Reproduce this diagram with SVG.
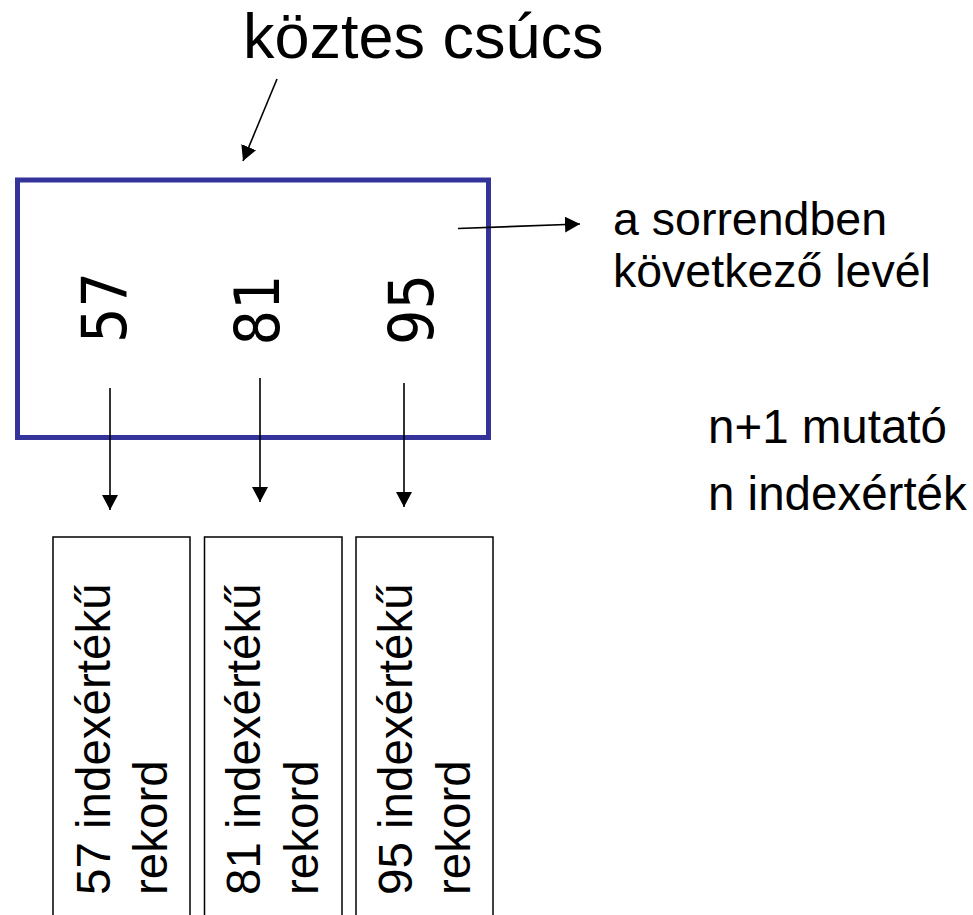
<svg xmlns="http://www.w3.org/2000/svg" width="973" height="915" viewBox="0 0 973 915">
<style>
.t{font-family:"Liberation Sans",Arial,sans-serif;fill:#000}
.num{font-family:"DejaVu Sans",sans-serif;font-size:62px;fill:#000}
.c{stroke:#000;stroke-width:1.6;fill:none}
.rec{fill:#fff;stroke:#000;stroke-width:1.5}
</style>
<defs>
<marker id="ah" markerUnits="userSpaceOnUse" markerWidth="16" markerHeight="16" viewBox="0 0 16 16" refX="15" refY="8" orient="auto">
<path d="M0,0 L15,8 L0,16 z" fill="#000"/>
</marker>
</defs>
<rect width="973" height="915" fill="#fff"/>
<g id="title"><text class="t" x="243" y="58" font-size="63">köztes csúcs</text></g>
<g id="node-koztes">
<rect x="17.5" y="180" width="471" height="257.5" fill="#fff" stroke="#333399" stroke-width="5"/>
<text class="num" transform="translate(126,307.5) rotate(-90) scale(0.9,1)" text-anchor="middle">57</text>
<text class="num" transform="translate(279,310) rotate(-90) scale(0.9,1)" text-anchor="middle">81</text>
<text class="num" transform="translate(433,309.5) rotate(-90) scale(0.9,1)" text-anchor="middle">95</text>
</g>
<g id="label-next"><text class="t" font-size="46.5"><tspan x="613" y="235">a sorrendben</tspan><tspan x="613" y="287">következő levél</tspan></text></g>
<g id="label-n"><text class="t" font-size="47.5" x="708" y="443">n+1 mutató</text><text class="t" font-size="47.5" x="708" y="510">n indexérték</text></g>
<g id="rec57">
<rect class="rec" x="53" y="537" width="137" height="390"/>
<text class="t" font-size="47.5" transform="translate(110,895) rotate(-90)">57 indexértékű</text>
<text class="t" font-size="47.5" transform="translate(167,895) rotate(-90)">rekord</text>
</g>
<g id="rec81">
<rect class="rec" x="204.5" y="537" width="137.5" height="390"/>
<text class="t" font-size="47.5" transform="translate(260,895) rotate(-90)">81 indexértékű</text>
<text class="t" font-size="47.5" transform="translate(318,895) rotate(-90)">rekord</text>
</g>
<g id="rec95">
<rect class="rec" x="356" y="537" width="137" height="390"/>
<text class="t" font-size="47.5" transform="translate(412,895) rotate(-90)">95 indexértékű</text>
<text class="t" font-size="47.5" transform="translate(470,895) rotate(-90)">rekord</text>
</g>
<g id="connectors">
<line class="c" x1="277" y1="79" x2="243" y2="161" marker-end="url(#ah)"/>
<line class="c" x1="458" y1="228.5" x2="580" y2="224" marker-end="url(#ah)"/>
<line class="c" x1="110" y1="388" x2="110" y2="510" marker-end="url(#ah)"/>
<line class="c" x1="260" y1="378" x2="260" y2="502" marker-end="url(#ah)"/>
<line class="c" x1="404" y1="383" x2="404" y2="507" marker-end="url(#ah)"/>
</g>
</svg>
